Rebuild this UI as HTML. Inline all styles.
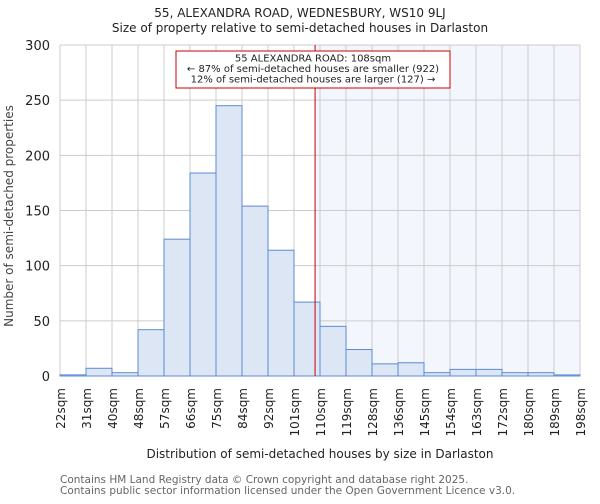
<!DOCTYPE html>
<html><head><meta charset="utf-8"><style>
body{margin:0;background:#fff;width:600px;height:500px;overflow:hidden;font-family:"DejaVu Sans","Liberation Sans",sans-serif}
svg text{font-family:"DejaVu Sans","Liberation Sans",sans-serif}
</style></head><body>
<svg id="chart" width="600" height="500" viewBox="0 0 600 500" xmlns="http://www.w3.org/2000/svg">
<text x="300" y="17" text-anchor="middle" font-size="12" fill="#222">55, ALEXANDRA ROAD, WEDNESBURY, WS10 9LJ</text>
<text x="300" y="32" text-anchor="middle" font-size="12" fill="#222">Size of property relative to semi-detached houses in Darlaston</text>
<g id="plot"></g>
<text transform="translate(13,216) rotate(-90)" text-anchor="middle" font-size="12" fill="#444">Number of semi-detached properties</text>
<text x="320" y="458" text-anchor="middle" font-size="12" fill="#222">Distribution of semi-detached houses by size in Darlaston</text>
<text x="60" y="483" font-size="10.5" fill="#666">Contains HM Land Registry data © Crown copyright and database right 2025.</text>
<text x="60" y="494" font-size="10.5" fill="#666">Contains public sector information licensed under the Open Government Licence v3.0.</text>
</svg>
<script>
const binLabels=["22sqm","31sqm","40sqm","48sqm","57sqm","66sqm","75sqm","84sqm","92sqm","101sqm","110sqm","119sqm","128sqm","136sqm","145sqm","154sqm","163sqm","172sqm","180sqm","189sqm","198sqm"];
const counts=[1,7,3,42,124,184,245,154,114,67,45,24,11,12,3,6,6,3,3,1];
const yTicks=[0,50,100,150,200,250,300];
const markerBin=10-0.19;
const NS="http://www.w3.org/2000/svg";
const L=60,R=580,T=45,B=376,YMAX=300;
const nb=counts.length,bw=(R-L)/nb;
const x=i=>L+i*bw;
const y=v=>B-(v/YMAX)*(B-T);
const g=document.getElementById('plot');
function mk(t,a){const e=document.createElementNS(NS,t);for(const k in a)e.setAttribute(k,a[k]);g.appendChild(e);return e;}
const hl=mk('rect',{x:x(markerBin),y:T,width:R-x(markerBin),height:B-T,fill:'#f3f6fd'});


for(let i=0;i<=nb;i++){const l=mk('line',{x1:x(i),x2:x(i),y1:T,y2:B,stroke:'#ccc','stroke-width':1});

}
yTicks.forEach(v=>{const l=mk('line',{x1:L,x2:R,y1:y(v),y2:y(v),stroke:'#ccc','stroke-width':1});


const t=mk('text',{x:L-10,y:y(v)+5,'text-anchor':'end','font-size':13,fill:'#222'});t.textContent=v;

});
counts.forEach((c,i)=>{const r=mk('rect',{x:x(i),y:y(c),width:bw,height:B-y(c),fill:'#dce6f4',stroke:'#5b8bd6','stroke-width':1});

});
binLabels.forEach((s,i)=>{const t=mk('text',{transform:`translate(${x(i)+5},388) rotate(-90)`,'text-anchor':'end','font-size':12,fill:'#222'});t.textContent=s;

});
const ml=mk('line',{x1:x(markerBin),x2:x(markerBin),y1:T,y2:B,stroke:'#cc0000','stroke-width':1});


const bx=mk('rect',{x:176,y:51,width:274,height:37,fill:'#fff',stroke:'#cc0000','stroke-width':1});


["55 ALEXANDRA ROAD: 108sqm","← 87% of semi-detached houses are smaller (922)","12% of semi-detached houses are larger (127) →"].forEach((s,i)=>{const t=mk('text',{x:313,y:61.5+i*10.5,'text-anchor':'middle','font-size':10,fill:'#222'});t.textContent=s;

});
</script>
</body></html>
